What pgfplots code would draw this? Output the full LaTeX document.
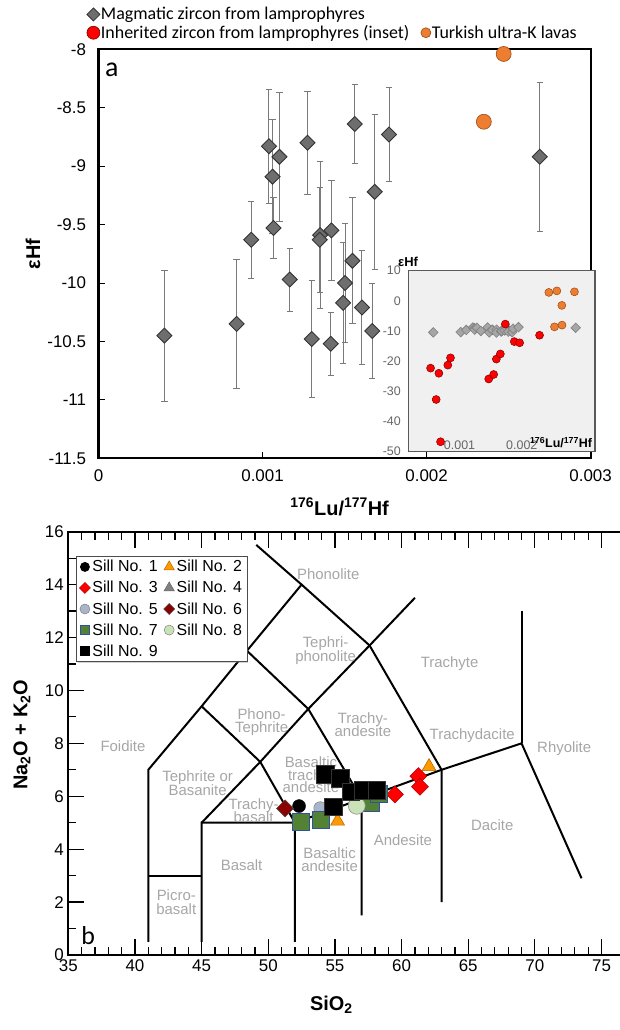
\documentclass[border=0pt]{standalone}
\usepackage{fontspec}
\setmainfont{Liberation Sans}
\newfontfamily\calibri{Carlito}
\usepackage{pgfplots}
\usepackage{pgfplotstable}
\pgfplotsset{compat=1.18}
\usetikzlibrary{shadows}

\definecolor{diafill}{HTML}{6E6E6E}
\definecolor{diaedge}{HTML}{333333}
\definecolor{errgray}{HTML}{7A7A7A}
\definecolor{xlorange}{HTML}{ED7D31}
\definecolor{orangeedge}{HTML}{9C4A12}
\definecolor{redfill}{HTML}{FF0000}
\definecolor{rededge}{HTML}{7A0000}
\definecolor{fieldgray}{HTML}{A6A6A6}
\definecolor{sillorange}{HTML}{FF9900}
\definecolor{sillorangeedge}{HTML}{B36B00}
\definecolor{sillgray}{HTML}{808080}
\definecolor{sillblue}{HTML}{A9B5C9}
\definecolor{silldred}{HTML}{8B0000}
\definecolor{sillgreen}{HTML}{548235}
\definecolor{sillgreenedge}{HTML}{2F52A0}
\definecolor{silllgreen}{HTML}{C9E2B8}
\definecolor{insetdia}{HTML}{A6A6A6}
\definecolor{insetdiaedge}{HTML}{7F7F7F}

\tikzset{fieldlbl/.style={font=\fontsize{15}{15.5}\selectfont, text=fieldgray, align=center, inner sep=0pt}}

\pgfdeclareplotmark{rdiamond}{%
  \pgfpathmoveto{\pgfqpoint{0pt}{\pgfplotmarksize}}%
  \pgfpathlineto{\pgfqpoint{\pgfplotmarksize}{0pt}}%
  \pgfpathlineto{\pgfqpoint{0pt}{-\pgfplotmarksize}}%
  \pgfpathlineto{\pgfqpoint{-\pgfplotmarksize}{0pt}}%
  \pgfpathclose
  \pgfusepathqfillstroke}

\pgfplotstableread{
x y e
0.000402 -10.45 0.56
0.000842 -10.35 0.55
0.000931 -9.63 0.33
0.001039 -8.83 0.49
0.001061 -9.09 0.49
0.001067 -9.53 0.26
0.001103 -8.92 0.55
0.001166 -9.97 0.27
0.001274 -8.80 0.44
0.001300 -10.48 0.50
0.001351 -9.59 0.63
0.001349 -9.63 0.45
0.001420 -9.55 0.43
0.001416 -10.52 0.27
0.001491 -10.17 0.52
0.001503 -10.00 0.51
0.001548 -9.81 0.54
0.001562 -8.64 0.34
0.001606 -10.21 0.49
0.001669 -10.41 0.41
0.001684 -9.22 0.66
0.001771 -8.73 0.40
0.002690 -8.92 0.64
}\magmatic

\pgfplotstableread{
x y
0.000358 -22.3
0.000491 -24.0
0.000448 -32.7
0.000518 -46.7
0.000635 -21.3
0.000678 -18.9
0.001292 -25.9
0.001372 -24.4
0.001415 -19.3
0.001479 -17.6
0.001559 -7.7
0.001703 -13.5
0.001789 -13.9
0.002109 -11.4
}\inherited

\pgfplotstableread{
x y
0.002349 -8.62
0.002470 -8.04
}\turkishmain

\pgfplotstableread{
x y
0.002349 -8.62
0.002470 -8.04
0.002258 2.8
0.002387 3.3
0.002670 3.0
0.002467 -1.5
}\turkishinset

\begin{document}
\begin{tikzpicture}
\path[use as bounding box] (0bp,0bp) rectangle (620bp,1030bp);

%================ PANEL a =================
\begin{axis}[
  at={(98.5bp,571.7bp)}, anchor=south west,
  scale only axis, width=492.1bp, height=409bp,
  xmin=0, xmax=0.003, ymin=-11.5, ymax=-8,
  scaled x ticks=false, scaled y ticks=false,
  clip=false,
  axis line style={line width=2.2bp, black},
  xtick={0,0.001,0.002,0.003}, xticklabels={0,0.001,0.002,0.003},
  ytick={-11.5,-11,-10.5,-10,-9.5,-9,-8.5,-8},
  yticklabels={-11.5,-11,-10.5,-10,-9.5,-9,-8.5,-8},
  tick align=inside, ytick pos=left, xtick pos=bottom,
  major tick length=6bp,
  tick style={line width=0.9bp, black},
  ticklabel style={font=\fontsize{17}{20}\selectfont},
  yticklabel style={xshift=-9bp},
  xticklabel style={yshift=-8bp},
  xlabel={\textbf{\textsuperscript{176}Lu/\textsuperscript{177}Hf}},
  ylabel={\textbf{εHf}},
  label style={font=\fontsize{20}{24}\selectfont},
  xlabel style={at={(axis description cs:0.49,-0.119)}, anchor=center},
  ylabel style={at={(axis description cs:-0.133,0.5)}, anchor=center},
  legend columns=2,
  legend cell align=left,
  legend style={at={(-0.03,1.11)}, anchor=north west, draw=none, fill=none,
    font=\calibri\fontsize{18}{19}\selectfont,
    nodes={inner sep=1bp}, row sep=2bp,
    /tikz/every even column/.append style={column sep=7bp}},
]
\addlegendimage{only marks, mark=rdiamond, mark size=6.5bp, mark options={fill=diafill, draw=diaedge, line width=0.8bp}}
\addlegendentry{Magmatic zircon from lamprophyres}
\addlegendimage{empty legend}
\addlegendentry{}
\addlegendimage{only marks, mark=*, mark size=6.5bp, mark options={fill=redfill, draw=rededge, line width=0.6bp}}
\addlegendentry{Inherited zircon from lamprophyres (inset)}
\addlegendimage{only marks, mark=*, mark size=5bp, mark options={fill=xlorange, draw=orangeedge, line width=0.6bp}}
\addlegendentry{Turkish ultra-K lavas}

\addplot[forget plot, only marks, mark=rdiamond, mark size=7.5bp,
  mark options={fill=diafill, draw=diaedge, line width=0.9bp},
  error bars/.cd, y dir=both, y explicit,
  error mark options={rotate=90, mark size=3.2bp, draw=errgray, line width=0.9bp},
  error bar style={draw=errgray, line width=0.9bp}]
  table[x=x, y=y, y error=e] {\magmatic};
\addplot[forget plot, only marks, mark=*, mark size=7.5bp,
  mark options={fill=xlorange, draw=orangeedge, line width=0.6bp}]
  table[x=x, y=y] {\turkishmain};
\node[anchor=center, font=\calibri\fontsize{28}{30}\selectfont] at (rel axis cs:0.027,0.949) {a};
\end{axis}

%================ INSET =================
\begin{axis}[
  at={(408.3bp,578.3bp)}, anchor=south west,
  scale only axis, width=186.7bp, height=181bp,
  xmin=0, xmax=0.003, ymin=-50, ymax=10,
  scaled x ticks=false, scaled y ticks=false,
  clip=false,
  axis background/.style={fill=black!6},
  axis line style={draw=black!65, line width=1.4bp},
  xtick={0.001,0.002}, xticklabels={0.001,0.002},
  ytick={-50,-40,-30,-20,-10,0,10}, yticklabels={-50,-40,-30,-20,-10,0,10},
  major tick length=0bp,
  ticklabel style={font=\fontsize{12.5}{14}\selectfont, text=black!60},
  xticklabel style={anchor=south, xshift=-11bp, yshift=-1bp},
  yticklabel style={xshift=-4bp},
]
\addplot[only marks, mark=rdiamond, mark size=4.8bp,
  mark options={fill=insetdia, draw=insetdiaedge, line width=0.6bp}]
  table[x=x, y=y] {\magmatic};
\addplot[only marks, mark=*, mark size=4bp,
  mark options={fill=redfill, draw=rededge, line width=0.5bp}]
  table[x=x, y=y] {\inherited};
\addplot[only marks, mark=*, mark size=4bp,
  mark options={fill=xlorange, draw=orangeedge, line width=0.5bp}]
  table[x=x, y=y] {\turkishinset};
\node[anchor=south west, inner sep=0pt, font=\bfseries\fontsize{13}{15}\selectfont] at (rel axis cs:-0.055,1.02) {εHf};
\node[anchor=south east, inner sep=0pt, font=\bfseries\fontsize{12.5}{14}\selectfont] at (rel axis cs:0.985,0.02) {\textsuperscript{176}Lu/\textsuperscript{177}Hf};
\end{axis}

%================ PANEL b (TAS) =================
\begin{axis}[
  at={(68.3bp,75bp)}, anchor=south west,
  scale only axis, width=552.7bp, height=423.3bp,
  xmin=35, xmax=76.46, ymin=0, ymax=16,
  axis line style={line width=2.2bp, black},
  xtick={35,40,...,75}, minor x tick num=4,
  ytick={0,2,...,16}, minor y tick num=1,
  tick align=inside, ytick pos=left,
  major tick length=16bp, minor tick length=8bp,
  tick style={line width=1.2bp, black},
  /pgf/number format/assume math mode=true,
  ticklabel style={font=\fontsize{17}{20}\selectfont},
  xticklabel style={yshift=-1bp},
  yticklabel style={xshift=-1bp},
  xlabel={\textbf{SiO\textsubscript{2}}},
  ylabel={\textbf{Na\textsubscript{2}O + K\textsubscript{2}O}},
  label style={font=\fontsize{20}{24}\selectfont},
  xlabel style={at={(axis description cs:0.476,-0.118)}, anchor=center},
  ylabel style={at={(axis description cs:-0.084,0.52)}, anchor=center},
  legend columns=2,
  legend cell align=left,
  legend style={at={(0.014,0.9426)}, anchor=north west, draw=black!70, fill=white,
    line width=0.8bp,
    drop shadow={shadow xshift=1.5bp, shadow yshift=-1.5bp, opacity=0.35},
    font=\fontsize{16}{18}\selectfont,
    nodes={inner sep=2bp}, row sep=4bp,
    /tikz/every even column/.append style={column sep=4bp}},
]
% TAS boundaries
\addplot[forget plot, black, line width=2bp] coordinates {(41,0.5) (41,7) (45,9.4) (48.4,11.5) (52.5,14) (49.1,15.5)};
\addplot[forget plot, black, line width=2bp] coordinates {(41,3) (45,3)};
\addplot[forget plot, black, line width=2bp] coordinates {(45,0.5) (45,5) (52,5) (57,5.9) (63,7) (69,8) (73.5,2.9)};
\addplot[forget plot, black, line width=2bp] coordinates {(45,5) (49.4,7.3) (53,9.3) (57.6,11.7) (61,13.5)};
\addplot[forget plot, black, line width=2bp] coordinates {(45,9.4) (49.4,7.3) (52,5) (52,0.5)};
\addplot[forget plot, black, line width=2bp] coordinates {(48.4,11.5) (53,9.3) (57,5.9) (57,1.5)};
\addplot[forget plot, black, line width=2bp] coordinates {(52.5,14) (57.6,11.7) (63,7) (63,2)};
\addplot[forget plot, black, line width=2bp] coordinates {(69,8) (69,13)};

% field names
\node[fieldlbl] at (axis cs:54.5,14.4) {Phonolite};
\node[fieldlbl] at (axis cs:54.3,11.5) {Tephri-\\[-2bp]phonolite};
\node[fieldlbl] at (axis cs:63.6,11.0) {Trachyte};
\node[fieldlbl] at (axis cs:39.1,7.9) {Foidite};
\node[fieldlbl] at (axis cs:49.5,8.8) {Phono-\\[-2bp]Tephrite};
\node[fieldlbl] at (axis cs:57.1,8.7) {Trachy-\\[-2bp]andesite};
\node[fieldlbl] at (axis cs:65.3,8.3) {Trachydacite};
\node[fieldlbl] at (axis cs:72.2,7.8) {Rhyolite};
\node[fieldlbl] at (axis cs:44.7,6.5) {Tephrite or\\[-1bp]Basanite};
\node[fieldlbl] at (axis cs:48.9,5.45) {Trachy-\\[-2bp]basalt};
\node[fieldlbl] at (axis cs:53.2,6.8) {Basaltic\\[-3bp]trachy-\\[-3bp]andesite};
\node[fieldlbl] at (axis cs:48.0,3.4) {Basalt};
\node[fieldlbl] at (axis cs:54.6,3.6) {Basaltic\\[-2bp]andesite};
\node[fieldlbl] at (axis cs:60.1,4.35) {Andesite};
\node[fieldlbl] at (axis cs:66.8,4.9) {Dacite};
\node[fieldlbl] at (axis cs:43.1,2.0) {Picro-\\[-2bp]basalt};

% legend images
\addlegendimage{only marks, mark=*, mark size=4.5bp, mark options={fill=black, draw=black}}
\addlegendentry{Sill No. 1}
\addlegendimage{only marks, mark=triangle*, mark size=6bp, mark options={fill=sillorange, draw=sillorangeedge, line width=0.5bp}}
\addlegendentry{Sill No. 2}
\addlegendimage{only marks, mark=rdiamond, mark size=5.5bp, mark options={fill=redfill, draw=red!70!black, line width=0.5bp}}
\addlegendentry{Sill No. 3}
\addlegendimage{only marks, mark=triangle*, mark size=6bp, mark options={fill=sillgray, draw=black!60, line width=0.5bp}}
\addlegendentry{Sill No. 4}
\addlegendimage{only marks, mark=*, mark size=5bp, mark options={fill=sillblue, draw=black!50, line width=0.5bp}}
\addlegendentry{Sill No. 5}
\addlegendimage{only marks, mark=rdiamond, mark size=5.5bp, mark options={fill=silldred, draw=black!70, line width=0.5bp}}
\addlegendentry{Sill No. 6}
\addlegendimage{only marks, mark=square*, mark size=4.5bp, mark options={fill=sillgreen, draw=sillgreenedge, line width=0.8bp}}
\addlegendentry{Sill No. 7}
\addlegendimage{only marks, mark=*, mark size=5bp, mark options={fill=silllgreen, draw=black!50, line width=0.5bp}}
\addlegendentry{Sill No. 8}
\addlegendimage{only marks, mark=square*, mark size=4.5bp, mark options={fill=black, draw=black}}
\addlegendentry{Sill No. 9}

% data
\addplot[forget plot, only marks, mark=*, mark size=6.5bp, mark options={fill=black, draw=black}]
  coordinates {(52.31,5.63)};
\addplot[forget plot, only marks, mark=triangle*, mark size=8bp, mark options={fill=sillorange, draw=sillorangeedge, line width=0.6bp}]
  coordinates {(55.2,5.06) (62.06,7.12)};
\addplot[forget plot, only marks, mark=rdiamond, mark size=8.5bp, mark options={fill=redfill, draw=red!70!black, line width=0.6bp}]
  coordinates {(59.5,6.07) (61.26,6.76) (61.38,6.36)};
\addplot[forget plot, only marks, mark=triangle*, mark size=6bp, mark options={fill=sillgray, draw=black!60, line width=0.5bp}]
  coordinates {(53.93,5.10)};
\addplot[forget plot, only marks, mark=*, mark size=6.5bp, mark options={fill=sillblue, draw=black!50, line width=0.5bp}]
  coordinates {(53.9,5.55)};
\addplot[forget plot, only marks, mark=rdiamond, mark size=8.5bp, mark options={fill=silldred, draw=black!70, line width=0.6bp}]
  coordinates {(51.26,5.54)};
\addplot[forget plot, only marks, mark=square*, mark size=8.5bp, mark options={fill=sillgreen, draw=sillgreenedge, line width=1bp}]
  coordinates {(52.46,5.04) (53.93,5.10) (57.68,5.73) (58.3,6.1)};
\addplot[forget plot, only marks, mark=*, mark size=8.5bp, mark options={fill=silllgreen, draw=black!45, line width=0.6bp}]
  coordinates {(56.64,5.64)};
\addplot[forget plot, only marks, mark=square*, mark size=8.8bp, mark options={fill=black, draw=black!80}]
  coordinates {(54.26,6.84) (55.38,6.68) (56.18,6.17) (54.88,5.6) (57.13,6.24) (58.13,6.24)};

\node[anchor=center, font=\calibri\fontsize{26}{28}\selectfont] at (axis cs:36.5,0.75) {b};
\end{axis}
\end{tikzpicture}
\end{document}
